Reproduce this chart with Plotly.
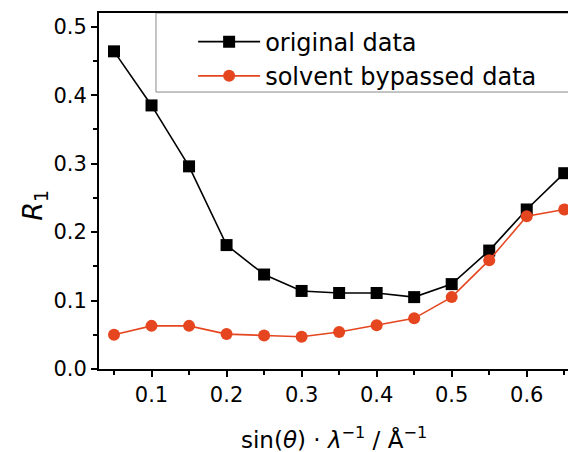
import plotly.graph_objects as go

x_vals = [0.05, 0.10, 0.15, 0.20, 0.25, 0.30, 0.35, 0.40, 0.45, 0.50, 0.55, 0.60, 0.65]
original = [0.464, 0.385, 0.296, 0.181, 0.138, 0.114, 0.111, 0.111, 0.105, 0.124, 0.173, 0.233, 0.286]
bypassed = [0.050, 0.063, 0.063, 0.051, 0.049, 0.047, 0.054, 0.064, 0.074, 0.105, 0.159, 0.223, 0.233]

FONT = "DejaVu Sans"
RED = "#E5461F"

fig = go.Figure()
fig.add_trace(go.Scatter(
    x=x_vals, y=original, mode="lines+markers", name="original data",
    line=dict(color="black", width=1.6),
    marker=dict(symbol="square", size=12, color="black"),
    cliponaxis=False,
))
fig.add_trace(go.Scatter(
    x=x_vals, y=bypassed, mode="lines+markers", name="solvent bypassed data",
    line=dict(color=RED, width=1.6),
    marker=dict(symbol="circle", size=12, color=RED),
    cliponaxis=False,
))

fig.update_layout(
    width=568, height=452,
    margin=dict(l=99, r=0, t=13, b=83, autoexpand=False),
    paper_bgcolor="white", plot_bgcolor="white",
    font=dict(family=FONT, size=21, color="black"),
    showlegend=True,
    legend=dict(
        x=0.2007, y=0.9816, xanchor="left", yanchor="top",
        borderwidth=0, bgcolor="rgba(0,0,0,0)",
        font=dict(family=FONT, size=24, color="black"),
        itemwidth=62, tracegroupgap=0,
    ),
    shapes=[dict(type="rect", xref="paper", yref="paper",
                 x0=0.1215, x1=1.05, y0=0.778, y1=1.0,
                 line=dict(color="#8a8a8a", width=1), layer="below")],
    xaxis=dict(
        range=[0.03, 0.655], tick0=0, dtick=0.1, tickformat=".1f",
        showgrid=False, zeroline=False, automargin=False,
        showline=True, linecolor="black", linewidth=2, mirror=True,
        ticks="outside", ticklen=6, tickwidth=2, tickcolor="black",
        minor=dict(dtick=0.05, tick0=0, ticks="outside", ticklen=4, tickwidth=2, tickcolor="black"),
        tickfont=dict(family=FONT, size=21),
    ),
    yaxis=dict(
        range=[0, 0.52], tick0=0, dtick=0.1, tickformat=".1f",
        showgrid=False, zeroline=False, automargin=False,
        showline=True, linecolor="black", linewidth=2,
        ticks="outside", ticklen=6, tickwidth=2, tickcolor="black",
        minor=dict(dtick=0.05, tick0=0, ticks="outside", ticklen=4, tickwidth=2, tickcolor="black"),
        tickfont=dict(family=FONT, size=21),
    ),
    annotations=[
        dict(text="sin(<i>θ</i>) · <i>λ</i><sup>−1</sup> / Å<sup>−1</sup>",
             xref="paper", yref="paper", x=0.5, y=-0.194, xanchor="center", yanchor="middle",
             showarrow=False, font=dict(family=FONT, size=23)),
        dict(text="<i>R</i><sub>1</sub>", textangle=-90,
             xref="paper", yref="paper", x=-0.1365, y=0.461, xanchor="center", yanchor="middle",
             showarrow=False, font=dict(family=FONT, size=27)),
    ],
)

fig.write_html("out.html", config={"displayModeBar": False},
               post_script="document.body.style.margin='0';document.body.style.overflow='hidden';")
